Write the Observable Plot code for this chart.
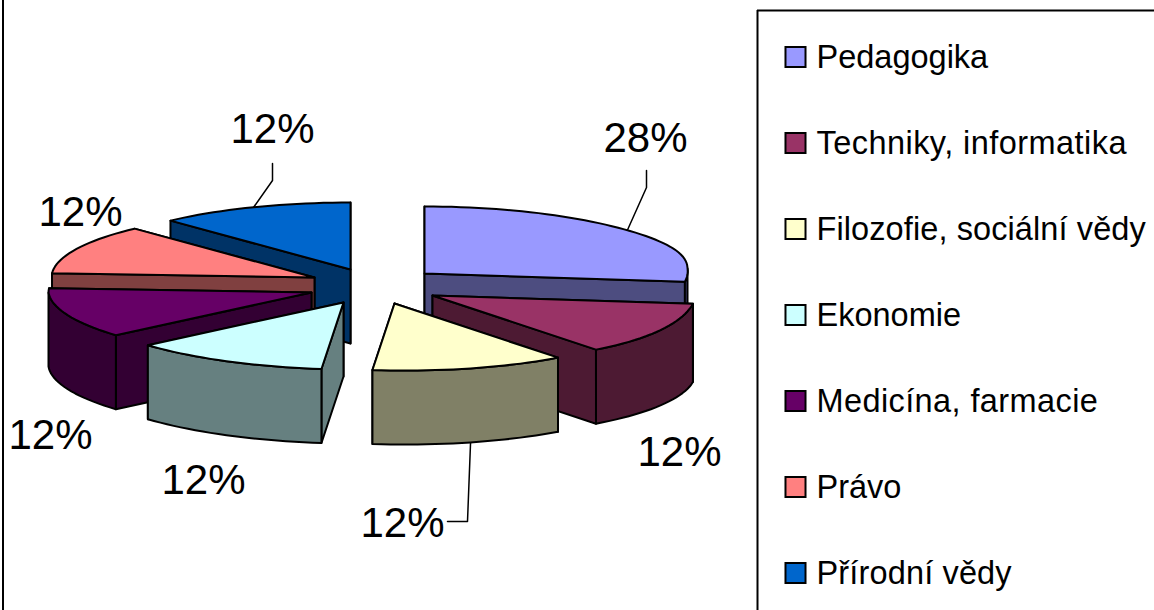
<!DOCTYPE html>
<html>
<head>
<meta charset="utf-8">
<style>
  html, body { margin: 0; padding: 0; background: #fff; }
  svg { display: block; }
</style>
<script src="https://cdn.jsdelivr.net/npm/d3@7"></script>
<script src="https://cdn.jsdelivr.net/npm/@observablehq/plot@0.6"></script>
</head>
<body>
<div id="chart"></div>
<script>
const categories = ["Pedagogika", "Techniky, informatika", "Filozofie, sociální vědy", "Ekonomie", "Medicína, farmacie", "Právo", "Přírodní vědy"];
const shares = [28, 12, 12, 12, 12, 12, 12];
const colors = ["#9999FF", "#993366", "#FFFFCC", "#CCFFFF", "#660066", "#FF8080", "#0066CC"];

// Layout of the exploded 3D pie: apex of each slice, label anchors.
const apexX = [424, 432, 394, 343, 311, 314, 350];
const apexY = [273, 295, 303, 302, 292, 277, 269];
const labelX = [645, 679, 402, 203, 50, 80, 272];
const labelY = [138, 452, 523, 480, 435, 212, 129];
const paintOrder = [6, 5, 4, 3, 0, 1, 2];
// Leader lines: slice index, elbow and end near the label.
const leaderSlices = [0, 2, 6];
const leaderElbowX = [646, 467, 272];
const leaderElbowY = [187, 521, 180];
const leaderEndX = [646, 447, 272];
const leaderEndY = [170, 521, 163];
// Extra letter spacing of each legend entry (px).
const legendTracking = [0, 0.45, 0.1, 0, 0.4, 0, 0.15];

const RX = 263, RY = 67, DEPTH = 74, SHEAR = 11;
const rad = (deg) => (deg * Math.PI) / 180;

function rimX(i, t) {
  const r = rad(t);
  return apexX[i] + RX * Math.sin(r) + SHEAR * Math.max(0, -Math.cos(r));
}
function rimY(i, t) {
  return apexY[i] - RY * Math.cos(rad(t));
}
function topY(i, t) {
  return rimY(i, t) - 5 * Math.pow(Math.max(0, Math.sin(rad(t))), 8);
}

const total = d3.sum(shares);
const cum = d3.cumsum(shares);
const startAngle = shares.map((_, i) => (i === 0 ? 0 : (cum[i - 1] / total) * 360));
const endAngle = shares.map((_, i) => (cum[i] / total) * 360);

const arcAngles = (a, b) => {
  const n = Math.max(1, Math.ceil((b - a) / 2));
  return d3.range(n + 1).map((k) => a + ((b - a) * k) / n);
};

const polys = [];
let pid = 0;
function addPoly(points, fill) {
  const id = pid++;
  [...points, points[0]].forEach(([x, y]) => polys.push({ id, x, y, fill }));
}

for (const i of paintOrder) {
  const a = startAngle[i], b = endAngle[i];
  const top = colors[i];
  const base = d3.rgb(top);
  const side = d3.rgb(base.r / 2, base.g / 2, base.b / 2).formatHex();
  const ax = apexX[i], ay = apexY[i];
  const face = (t) => [
    [ax, ay],
    [rimX(i, t), topY(i, t)],
    [rimX(i, t), rimY(i, t) + DEPTH],
    [ax, ay + DEPTH]
  ];
  const mid = (a + b) / 2;
  const faces = mid < 180 ? [a, b] : [b, a];
  faces.forEach((t) => addPoly(face(t), side));
  const ra = Math.max(a, 90), rb = Math.min(b, 270);
  if (ra < rb) {
    const ts = arcAngles(ra, rb);
    addPoly(
      [
        ...ts.map((t) => [rimX(i, t), topY(i, t)]),
        ...ts.slice().reverse().map((t) => [rimX(i, t), rimY(i, t) + DEPTH])
      ],
      side
    );
  }
  addPoly([[ax, ay], ...arcAngles(a, b).map((t) => [rimX(i, t), topY(i, t)])], top);
}

const leaders = leaderSlices.flatMap((i, k) => {
  const m = (startAngle[i] + endAngle[i]) / 2;
  const front = Math.cos(rad(m)) < 0;
  return [
    { k, x: leaderEndX[k], y: leaderEndY[k] },
    { k, x: leaderElbowX[k], y: leaderElbowY[k] },
    { k, x: rimX(i, m), y: rimY(i, m) + (front ? DEPTH : 0) }
  ];
});

const labels = shares.map((s, i) => ({ text: s + "%", x: labelX[i], y: labelY[i] }));
const legend = categories.map((name, i) => ({ name, i, fill: colors[i], y: 56.5 + i * 86 }));

const FONT = "Liberation Sans, Arial, sans-serif";

const chart = Plot.plot({
  width: 1154,
  height: 610,
  margin: 0,
  x: { type: "linear", domain: [0, 1154], range: [0, 1154], axis: null },
  y: { type: "linear", domain: [0, 610], range: [0, 610], axis: null },
  color: { type: "identity" },
  style: { background: "#fff", fontFamily: FONT },
  marks: [
    Plot.ruleX([2.5], { stroke: "#000", strokeWidth: 2 }),
    Plot.ruleX([757], { y1: 10, y2: 610, stroke: "#000", strokeWidth: 2 }),
    Plot.ruleY([10], { x1: 757, x2: 1154, stroke: "#000", strokeWidth: 2 }),
    Plot.line(leaders, { x: "x", y: "y", z: "k", stroke: "#000", strokeWidth: 1.5, curve: "linear" }),
    Plot.line(polys, {
      x: "x", y: "y", z: "id", fill: "fill", stroke: "#000",
      strokeWidth: 2, strokeLinejoin: "round", curve: "linear"
    }),
    Plot.text(labels, {
      x: "x", y: "y", text: "text", fontSize: 42, fill: "#000",
      textAnchor: "middle", lineAnchor: "middle", fontFamily: FONT
    }),
    Plot.dot(legend, {
      x: () => 795, y: "y", symbol: "square", r: 11.3, fill: "fill",
      stroke: "#000", strokeWidth: 2
    }),
    Plot.text(legend, {
      x: () => 816, y: (d) => d.y + 1, text: "name", fontSize: 32.5, fill: "#000",
      textAnchor: "start", lineAnchor: "middle", fontFamily: FONT
    })
  ]
});
chart.querySelectorAll("text").forEach((node) => {
  const i = categories.indexOf(node.textContent);
  if (i >= 0) node.style.letterSpacing = legendTracking[i] + "px";
});
document.getElementById("chart").appendChild(chart);
</script>
</body>
</html>
